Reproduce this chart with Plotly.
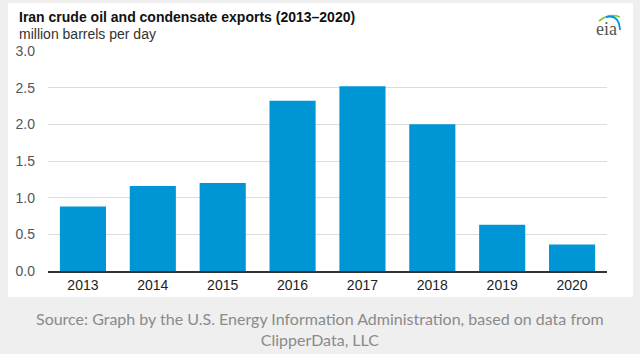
import plotly.graph_objects as go

years = ["2013", "2014", "2015", "2016", "2017", "2018", "2019", "2020"]
exports = [0.88, 1.16, 1.20, 2.32, 2.52, 2.00, 0.63, 0.36]
y_ticks = [0.0, 0.5, 1.0, 1.5, 2.0, 2.5, 3.0]

W, H = 640, 354
L, R, T, B = 48, 607, 51, 271
pw, ph = R - L, B - T

def px(x):
    return (x - L) / pw

def py(y):
    return (B - y) / ph

fig = go.Figure()
fig.add_trace(go.Bar(x=years, y=exports, marker=dict(color="#0096D6", line=dict(width=0)),
                     hoverinfo="x+y"))

shapes = [
    dict(type="rect", xref="paper", yref="paper", x0=px(8), x1=px(633), y0=py(297), y1=py(3),
         fillcolor="white", line=dict(width=0), layer="below"),
    # eia logo arcs
    dict(type="path", xref="paper", yref="paper",
         path=f"M {px(599)},{py(21)} Q {px(609)},{py(13)} {px(620)},{py(17)}",
         line=dict(color="#8cc63f", width=1.8)),
    dict(type="path", xref="paper", yref="paper",
         path=f"M {px(606)},{py(17)} Q {px(619)},{py(14)} {px(620)},{py(30)}",
         line=dict(color="#0096D6", width=1.8)),
]

annotations = [
    dict(text="<b>Iran crude oil and condensate exports (2013–2020)</b>", xref="paper", yref="paper",
         x=px(17), y=py(17), xanchor="left", yanchor="middle", showarrow=False,
         font=dict(family="Liberation Sans, Arial", size=14, color="#111")),
    dict(text="million barrels per day", xref="paper", yref="paper",
         x=px(17), y=py(34), xanchor="left", yanchor="middle", showarrow=False,
         font=dict(family="Liberation Sans, Arial", size=14, color="#333")),
    dict(text="eia", xref="paper", yref="paper",
         x=px(606), y=py(29), xanchor="center", yanchor="middle", showarrow=False,
         font=dict(family="Liberation Serif, DejaVu Serif", size=18, color="#555")),
    dict(text="Source: Graph by the U.S. Energy Information Administration, based on data from<br>ClipperData, LLC",
         xref="paper", yref="paper", x=px(320), y=py(329), xanchor="center", yanchor="middle",
         showarrow=False, align="center",
         font=dict(family="Lato", size=16, color="#8a8a8a")),
]

fig.update_layout(
    width=W, height=H,
    margin=dict(l=L, r=W - R, t=T, b=H - B),
    paper_bgcolor="#efefef", plot_bgcolor="white",
    showlegend=False, bargap=0.34,
    shapes=shapes, annotations=annotations,
    font=dict(family="Liberation Sans, Arial", size=14, color="#333"),
)
fig.update_xaxes(type="category", showline=True, linecolor="#333", linewidth=1.5,
                 ticks="", tickfont=dict(size=14, color="#222"), showgrid=False)
fig.update_yaxes(range=[0, 3], tickvals=y_ticks, ticktext=[f"{v:.1f}" for v in y_ticks],
                 showgrid=True, gridcolor="#dcdcdc", gridwidth=1, zeroline=False,
                 tickfont=dict(size=14, color="#555"), ticklabelstandoff=12, fixedrange=True)

fig.write_html("out.html")
